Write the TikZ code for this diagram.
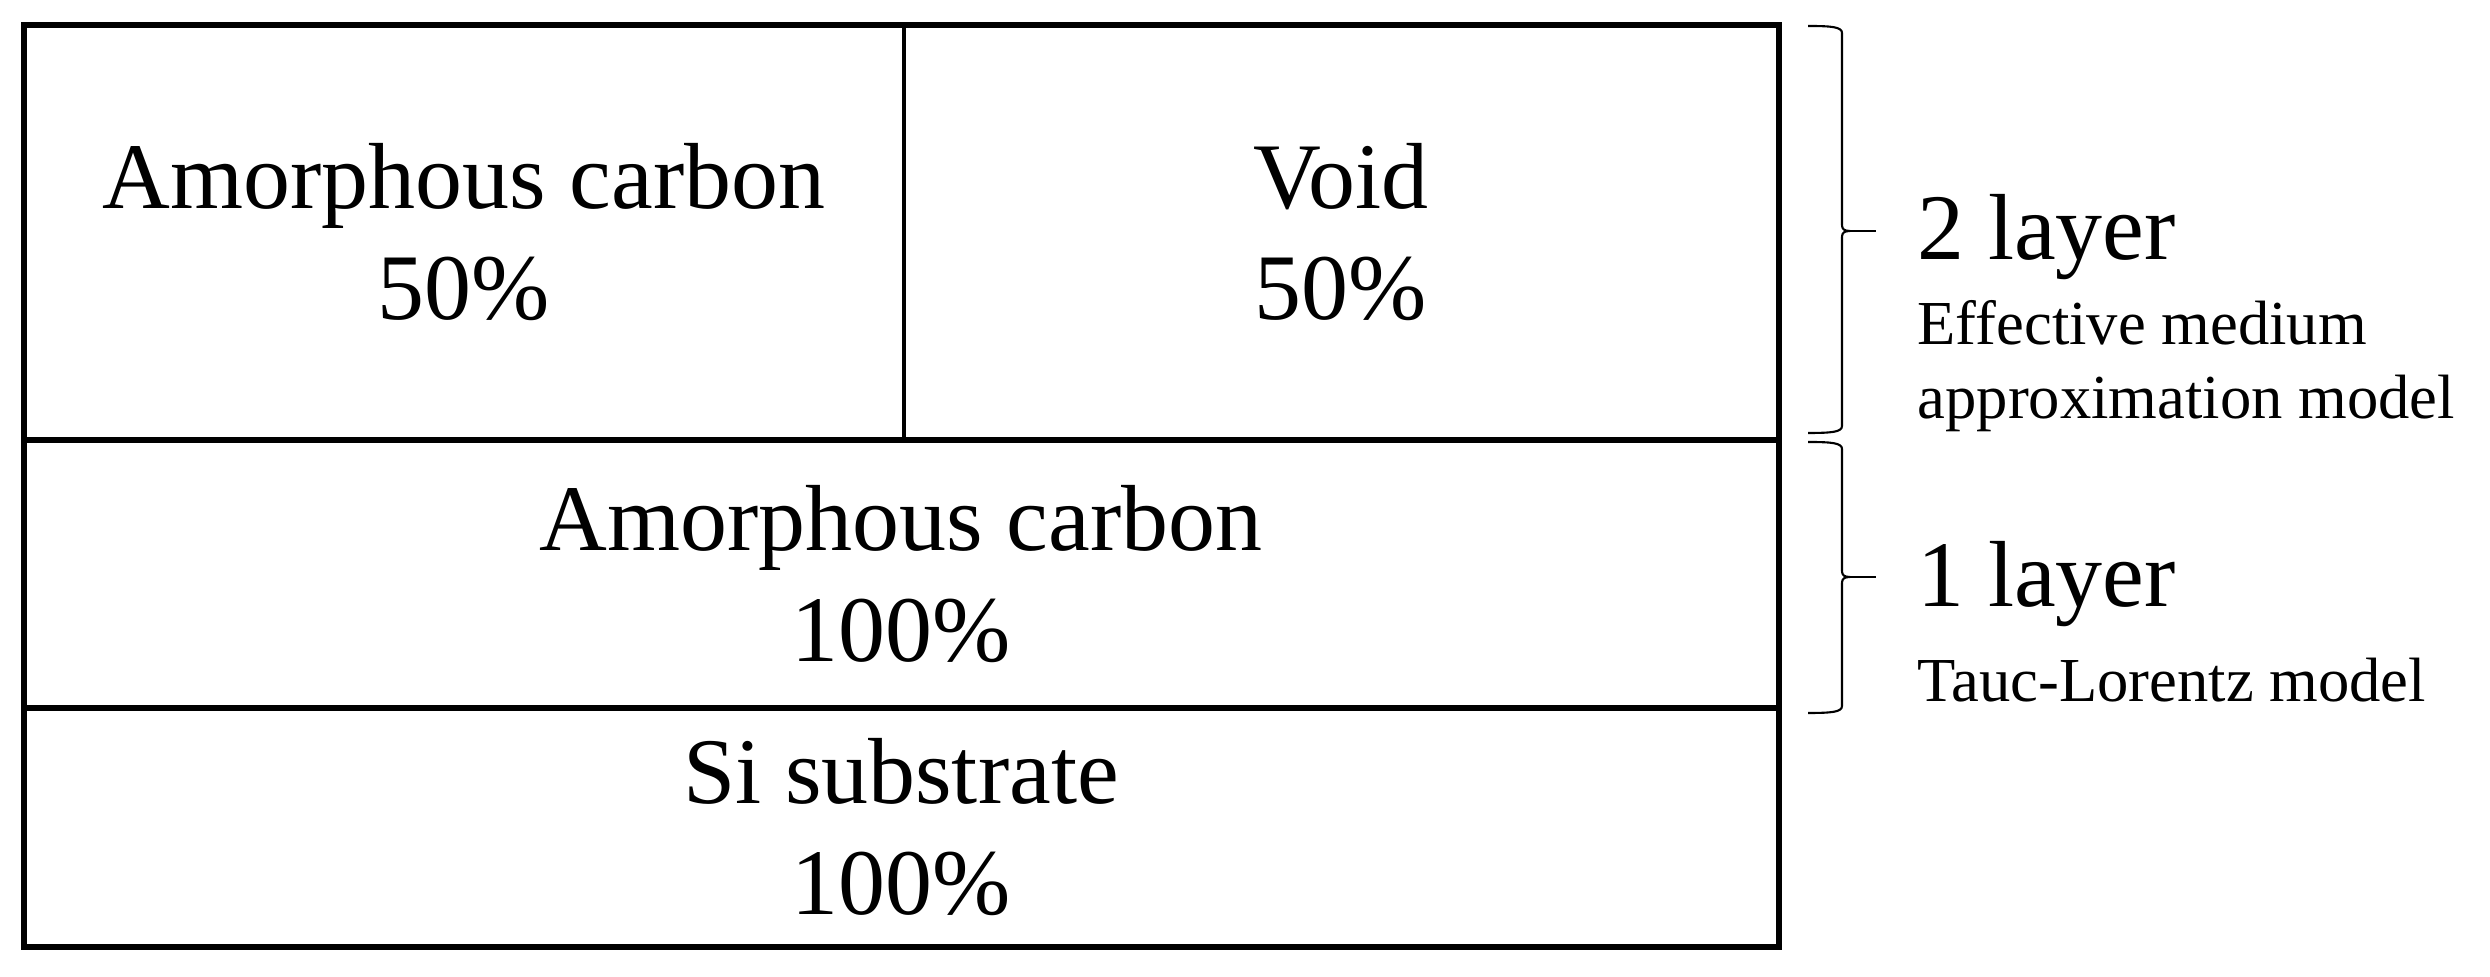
\documentclass[tikz,border=0pt]{standalone}
\usepackage{fontspec}
\setmainfont{Liberation Serif}

\tikzset{
    layerline/.style={line width=1.6pt},
    cellline/.style={line width=1.1pt},
    celltext/.style={align=center, inner sep=0pt, font=\fontsize{26.7}{31.8}\selectfont},
    bigtag/.style={anchor=base west, inner sep=0pt, font=\fontsize{26.7}{32}\selectfont},
    smalltag/.style={anchor=base west, inner sep=0pt, font=\fontsize{17.8}{18}\selectfont},
    bracestroke/.style={line width=0.6pt, line join=round},
}

\begin{document}
\begin{tikzpicture}[x=0.01cm, y=-0.01cm]
    \useasboundingbox (0,0) rectangle (2490,977);

    % layer stack
    \coordinate (tl) at (24,25);
    \coordinate (br) at (1779,947);
    \draw[layerline] (tl) rectangle (br);
    \draw[layerline] (24,440) -- (1779,440);
    \draw[layerline] (24,708) -- (1779,708);
    \draw[cellline] (904,25) -- (904,440);

    \node[celltext] (ac50) at (464,232) {Amorphous carbon\\50\%};
    \node[celltext] (void) at (1341,232) {Void\\50\%};
    \node[celltext] (ac100) at (901,574) {Amorphous carbon\\100\%};
    \node[celltext] (si) at (901,827) {Si substrate\\100\%};

    % braces: top / tip / bottom
    \foreach \ya/\yt/\yb in {26/231/433, 442/577/713} {
        \draw[bracestroke] (1808,\ya) .. controls (1832,\ya) and (1842,\ya+1) .. (1842,\ya+7)
            -- (1842,\yt-6) .. controls (1842,\yt-2) and (1844,\yt) .. (1850,\yt)
            .. controls (1844,\yt) and (1842,\yt+2) .. (1842,\yt+6)
            -- (1842,\yb-7) .. controls (1842,\yb-1) and (1832,\yb) .. (1808,\yb);
        \draw[bracestroke] (1848,\yt) -- (1876,\yt);
    }

    \node[bigtag] (two) at (1917,260) {2 layer};
    \node[smalltag] (ema1) at (1917,345) {Effective medium};
    \node[smalltag] (ema2) at (1917,419) {approximation model};
    \node[bigtag] (one) at (1917,607) {1 layer};
    \node[smalltag] (tl1) at (1917,702) {Tauc-Lorentz model};
\end{tikzpicture}
\end{document}
